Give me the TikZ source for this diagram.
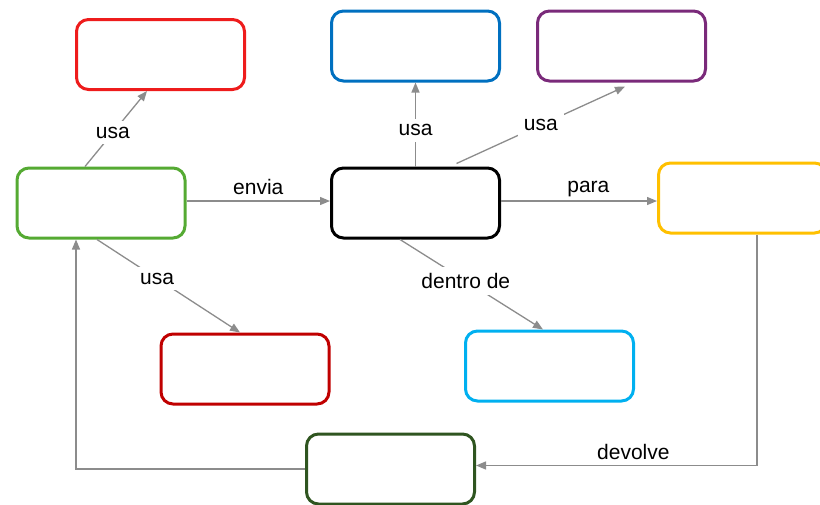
\documentclass[tikz,border=0pt]{standalone}
\usepackage{fontspec}
\setmainfont{Liberation Sans}
\usetikzlibrary{arrows.meta,calc}
\definecolor{cred}{HTML}{EE1C1C}
\definecolor{cblue}{HTML}{0070C0}
\definecolor{cpurple}{HTML}{7A2A7A}
\definecolor{cgreen}{HTML}{55AA33}
\definecolor{cdarkred}{HTML}{C00000}
\definecolor{clightblue}{HTML}{00B0F0}
\definecolor{cdarkgreen}{HTML}{2F5520}
\definecolor{cyellow}{HTML}{FFC000}
\definecolor{linegray}{HTML}{8C8C8C}
\begin{document}
\begin{tikzpicture}[x=1pt,y=-1pt,
  box/.style={draw, fill=white, rounded corners=12pt, line width=3pt, minimum width=168pt, minimum height=70pt, inner sep=0pt},
  conn/.style={draw=linegray, line width=1.3pt, -{Triangle[length=10pt,width=8pt]}},
  lbl/.style={fill=white, inner sep=6pt, font=\fontsize{21}{24}\selectfont},
  alb/.style={inner sep=2pt, font=\fontsize{21}{24}\selectfont}]
\path[use as bounding box] (0,0) rectangle (820,504);
\clip (0,0) rectangle (820,504);
\node[box, draw=cred] (red) at (160.5,54.5) {};
\node[box, draw=cblue] (blue) at (415.5,46) {};
\node[box, draw=cpurple] (purple) at (621.5,46) {};
\node[box, draw=cgreen] (green) at (101,203) {};
\node[box, draw=black] (center) at (415.5,203) {};
\node[box, draw=cyellow] (yellow) at (742.5,198) {};
\node[box, draw=cdarkred] (darkred) at (245,369) {};
\node[box, draw=clightblue] (lightblue) at (549.5,366) {};
\node[box, draw=cdarkgreen] (darkgreen) at (390.5,469) {};

\draw[conn] ([xshift=-16pt]green.north) -- node[lbl,pos=0.45]{usa} ([xshift=-13.5pt]red.south);
\draw[conn] ([yshift=2pt]green.east) -- node[alb,above=4pt,midway]{envia} ([yshift=2pt]center.west);
\draw[conn] ([xshift=-4pt]green.south) -- node[lbl,pos=0.42]{usa} ([xshift=-5pt]darkred.north);
\draw[conn] (center.north) -- node[lbl,pos=0.43]{usa} (blue.south);
\draw[conn] ([xshift=41pt,yshift=3pt]center.north) -- node[lbl,pos=0.5]{usa} ([xshift=3.5pt,yshift=-4pt]purple.south);
\draw[conn] ([yshift=2pt]center.east) -- node[alb,above=1pt,pos=0.56]{para} ([yshift=2pt]center.east -| yellow.west);
\draw[conn] ([xshift=-15.5pt]center.south) -- node[lbl,pos=0.46]{dentro de} ([xshift=-6.5pt]lightblue.north);
\draw[conn] ([xshift=14.5pt]yellow.south) |- node[alb,above=3pt,pos=0.72]{devolve} ([yshift=3.5pt]darkgreen.east);
\draw[conn] (darkgreen.west) -| ([xshift=-25pt]green.south);
\end{tikzpicture}
\end{document}
